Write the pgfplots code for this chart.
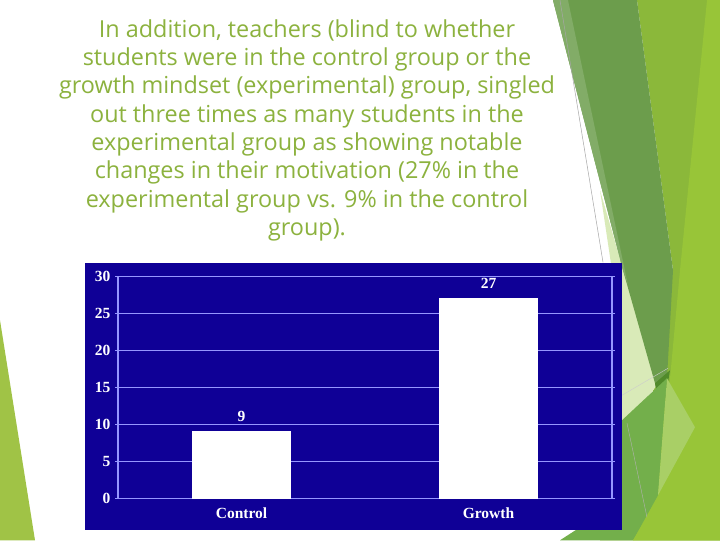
\documentclass[border=0pt]{standalone}
\usepackage{pgfplots}
\pgfplotsset{compat=1.18}
\usepackage{fontspec}
\setmainfont{Liberation Serif}
\newfontfamily\titlefont{Open Sans}
\definecolor{navy}{RGB}{15,0,150}
\definecolor{gridc}{RGB}{150,150,255}
\definecolor{titlec}{RGB}{140,178,62}
\definecolor{olive}{RGB}{139,184,58}
\definecolor{brightg}{RGB}{152,197,56}
\definecolor{darkg}{RGB}{108,157,76}
\definecolor{darkerg}{RGB}{80,138,42}
\definecolor{paleg}{RGB}{217,234,184}
\definecolor{medg}{RGB}{115,175,75}
\definecolor{lightg}{RGB}{169,207,102}
\definecolor{leftg}{RGB}{160,195,70}
\begin{document}
\begin{tikzpicture}
\begin{scope}[x=1pt,y=-1pt]
\fill[white] (0,0) rectangle (720,540);
% decorations
\fill[olive] (637,0) -- (720,0) -- (720,540) -- (600,540) -- (655,385) -- (673,270) -- cycle;
\fill[brightg] (707,0) -- (720,0) -- (720,540) -- (633,540) -- (668,400) -- (680,270) -- cycle;
\fill[paleg] (600,190) -- (657,385) -- (625,425) -- (622,425) -- (612,270) -- cycle;
\fill[darkg] (553,0) -- (637,0) -- (673,270) -- (667,378) -- (662,418) -- (655,383) -- (623,270) -- cycle;
\fill[darkg!85!white] (553,0) -- (568,0) -- (628,285) -- (623,270) -- cycle;
\fill[darkerg] (655,383) -- (670,370) -- (662,418) -- cycle;
\fill[medg] (622,420) -- (667,378) -- (658,495) -- (633,540) -- (560,540) -- (622,500) -- cycle;
\fill[lightg] (667,378) -- (695,427) -- (658,495) -- cycle;
\fill[brightg] (720,397) -- (720,540) -- (633,540) -- cycle;
\draw[gray!70, line width=0.5pt] (560,0) -- (603,262);
\draw[gray!60, line width=0.4pt] (627,423) -- (647,517);
\draw[gray!40, line width=0.4pt] (622,395) -- (668,368);
\fill[leftg] (0,320) -- (35,540) -- (0,540) -- cycle;
% title text
\foreach \t [count=\i from 0] in {%
{In addition, teachers (blind to whether},
{students were in the control group or the},
{growth mindset (experimental) group, singled},
{out three times as many students in the},
{experimental group as showing notable},
{changes in their motivation (27\% in the},
{experimental group vs. 9\% in the control},
{group).}}
{\node[anchor=base, inner sep=0pt, text=titlec, font=\titlefont\fontsize{23.4}{26}\selectfont] at (307,37+28.3*\i) {\t};}
% chart frame
\fill[navy] (85,263) rectangle (622,530);
\end{scope}
\begin{axis}[
  at={(118pt,-498pt)}, anchor=south west,
  scale only axis, width=494pt, height=222pt,
  xmin=-0.5, xmax=1.5, ymin=0, ymax=30,
  ytick={0,5,...,30},
  xtick={0,1}, xticklabels={Control,Growth},
  extra x ticks={0.5}, extra x tick labels={},
  extra x tick style={major tick length=4pt, tick style={gridc, line width=1pt}, grid=none},
  major x tick style={draw=none},
  ymajorgrids, grid style={gridc, line width=1.2pt},
  axis line style={gridc, line width=1.2pt},
  y tick style={gridc, line width=1.2pt},
  tick align=outside, major tick length=3pt,
  tick label style={text=white, font=\fontsize{15.5}{15.5}\selectfont\bfseries},
  /pgf/number format/assume math mode=true,
  yticklabel style={xshift=-1pt},
  xticklabel style={yshift=-3pt},
  axis background/.style={fill=navy},
  clip=false,
]
\addplot[ybar, bar width=98pt, fill=white, draw=white,
  nodes near coords, nodes near coords style={text=white, font=\fontsize{15.5}{15.5}\selectfont\bfseries, anchor=south, yshift=6pt},
  /pgf/number format/assume math mode=true]
  coordinates {(0,9) (1,27)};
\end{axis}
\end{tikzpicture}
\end{document}
